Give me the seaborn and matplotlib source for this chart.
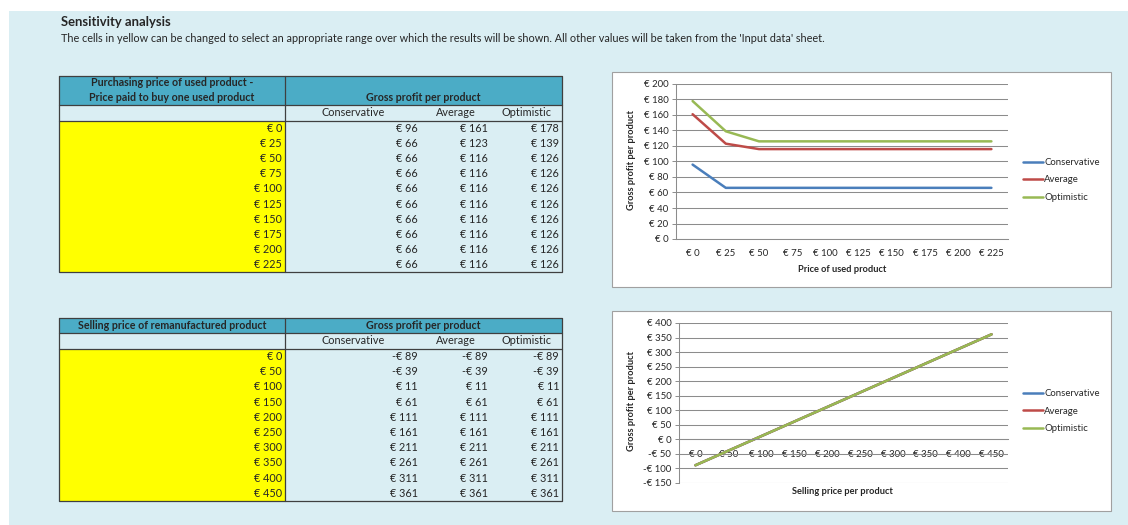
import matplotlib
matplotlib.use("Agg")
import numpy as np
import pandas as pd
import matplotlib.pyplot as plt
import seaborn as sns
from matplotlib.patches import Rectangle

# ---- data -------------------------------------------------------------
purchase_prices = [0, 25, 50, 75, 100, 125, 150, 175, 200, 225]
purchase_conservative = [96, 66, 66, 66, 66, 66, 66, 66, 66, 66]
purchase_average = [161, 123, 116, 116, 116, 116, 116, 116, 116, 116]
purchase_optimistic = [178, 139, 126, 126, 126, 126, 126, 126, 126, 126]

selling_prices = [0, 50, 100, 150, 200, 250, 300, 350, 400, 450]
selling_conservative = [-89, -39, 11, 61, 111, 161, 211, 261, 311, 361]
selling_average = [-89, -39, 11, 61, 111, 161, 211, 261, 311, 361]
selling_optimistic = [-89, -39, 11, 61, 111, 161, 211, 261, 311, 361]

scenarios = ["Conservative", "Average", "Optimistic"]
scenario_colors = ["#4A7EBB", "#BE4B48", "#98B954"]

title = "Sensitivity analysis"
subtitle = ("The cells in yellow can be changed to select an appropriate range over which the "
            "results will be shown. All other values will be taken from the 'Input data' sheet.")
purchase_header = ["Purchasing price of used product -", "Price paid to buy one used product"]
selling_header = ["Selling price of remanufactured product"]
profit_header = "Gross profit per product"

# ---- style ------------------------------------------------------------
sns.set_style("white")
plt.rcParams["font.family"] = ["Lato", "DejaVu Sans"]

BG = "#DAEEF3"
HEAD = "#4BACC6"
YELLOW = "#FFFF00"
GRID = "#8C8C8C"
BORDER = "#3F3F3F"

W, H = 1128, 525
fig = plt.figure(figsize=(W / 100, H / 100), dpi=100)

canvas = fig.add_axes([0, 0, 1, 1])
canvas.set_xlim(0, W)
canvas.set_ylim(H, 0)
canvas.axis("off")
canvas.add_patch(Rectangle((9, 11), W - 9, H - 11, facecolor=BG, edgecolor="none"))


def eur(v):
    return f"-€ {abs(v)}" if v < 0 else f"€ {v}"


canvas.text(61, 22, title, fontsize=9.4, fontweight="bold", va="center", ha="left")
canvas.text(61, 38.5, subtitle, fontsize=7.85, va="center", ha="left")

BASE = 7.8
BOLD = 7.7
TICK = 6.9


def draw_table(top, head_bot, sub_bot, bottom, header_lines, prices, cons, avg, opt):
    x0, xs, x1 = 59, 285, 562
    canvas.add_patch(Rectangle((x0, top), x1 - x0, head_bot - top, facecolor=HEAD, edgecolor="none"))
    canvas.add_patch(Rectangle((x0, sub_bot), xs - x0, bottom - sub_bot, facecolor=YELLOW, edgecolor="none"))
    # grid lines of the table
    canvas.plot([x0, x1, x1, x0, x0], [top, top, bottom, bottom, top], color=BORDER, lw=0.9)
    canvas.plot([xs, xs], [top, bottom], color=BORDER, lw=0.9)
    canvas.plot([x0, x1], [head_bot, head_bot], color=BORDER, lw=0.9)
    canvas.plot([x0, x1], [sub_bot, sub_bot], color=BORDER, lw=0.9)
    # headers
    n = len(header_lines)
    line_h = 15
    for i, line in enumerate(header_lines):
        y = head_bot - 7.5 - (n - 1 - i) * line_h
        canvas.text(172, y, line, fontsize=BOLD, fontweight="bold", ha="center", va="center")
    canvas.text(423, head_bot - 7.5, profit_header, fontsize=BOLD, fontweight="bold",
                ha="center", va="center")
    sub_y = (head_bot + sub_bot) / 2
    for name, cx in zip(scenarios, [353, 456, 527]):
        canvas.text(cx, sub_y, name, fontsize=BASE, ha="center", va="center")
    row_h = (bottom - sub_bot) / len(prices)
    for i, (p, c, a, o) in enumerate(zip(prices, cons, avg, opt)):
        y = sub_bot + (i + 0.5) * row_h
        for v, rx in zip([p, c, a, o], [282, 418, 488, 559]):
            canvas.text(rx, y, eur(v), fontsize=BASE, ha="right", va="center")


draw_table(76, 105, 121, 272, purchase_header, purchase_prices,
           purchase_conservative, purchase_average, purchase_optimistic)
draw_table(318, 333, 349, 501, selling_header, selling_prices,
           selling_conservative, selling_average, selling_optimistic)

# chart frames
for (l, t, r, b) in [(612, 72, 1111, 287), (612, 311, 1111, 511)]:
    canvas.add_patch(Rectangle((l + 1.2, t + 1.2), r - l, b - t, facecolor="#C4CACE", edgecolor="none"))
    canvas.add_patch(Rectangle((l, t), r - l, b - t, facecolor="white", edgecolor="#A0A0A0", lw=0.8))


def rect(left, top, right, bottom):
    return [left / W, 1 - bottom / H, (right - left) / W, (bottom - top) / H]


def line_chart(box, prices, cons, avg, opt, ylim, ystep, xlabel, xlabel_y, legend_y, zero_axis):
    ax = fig.add_axes(rect(*box))
    ax.patch.set_alpha(0)
    cats = [eur(p) for p in prices]
    df = pd.DataFrame({
        "price": cats * 3,
        "profit": list(cons) + list(avg) + list(opt),
        "scenario": np.repeat(scenarios, len(cats)),
    })
    sns.lineplot(data=df, x="price", y="profit", hue="scenario", hue_order=scenarios,
                 palette=scenario_colors, sort=False, linewidth=1.8, ax=ax)
    n = len(cats)
    ax.set_xlim(-0.5, n - 0.5)
    ax.set_ylim(*ylim)
    yt = np.arange(ylim[0], ylim[1] + 1, ystep)
    ax.set_yticks(yt)
    ax.set_yticklabels([eur(int(v)) for v in yt])
    ax.set_xticks(range(n))
    ax.set_xticklabels(cats)
    ax.set_xticks(np.arange(-0.5, n, 1.0), minor=True)
    ax.tick_params(axis="x", which="major", length=0, pad=7.5, labelsize=TICK)
    ax.tick_params(axis="x", which="minor", length=3, width=0.7, color=GRID, direction="out")
    ax.tick_params(axis="y", length=3, width=0.7, color=GRID, pad=2.5, labelsize=TICK, left=True)
    ax.yaxis.grid(True, color=GRID, lw=0.75)
    ax.xaxis.grid(False)
    ax.set_axisbelow(True)
    for s in ["top", "right"]:
        ax.spines[s].set_visible(False)
    for s in ["left", "bottom"]:
        ax.spines[s].set_color(GRID)
        ax.spines[s].set_linewidth(0.75)
    if zero_axis:
        ax.spines["bottom"].set_position(("data", 0))
    ax.set_xlabel(xlabel, fontsize=6.7, fontweight="bold")
    ax.set_ylabel("Gross profit per product", fontsize=6.7, fontweight="bold")
    l, t, r, b = box
    ax.xaxis.set_label_coords((842 - l) / (r - l), (b - xlabel_y) / (b - t))
    ax.xaxis.label.set_va("center")
    ax.yaxis.set_label_coords((632 - l) / (r - l), 0.51)
    ax.yaxis.label.set_va("center")
    handles, labels = ax.get_legend_handles_labels()
    ax.legend(handles, labels, loc="center left",
              bbox_to_anchor=(1023 / W, 1 - legend_y / H), bbox_transform=fig.transFigure,
              frameon=False, fontsize=TICK, handlelength=2.1, handletextpad=0.1,
              labelspacing=0.9, borderpad=0, borderaxespad=0)
    return ax


line_chart((676, 84, 1008, 239), purchase_prices, purchase_conservative, purchase_average,
           purchase_optimistic, (0, 200), 20, "Price of used product", 269, 180, False)
line_chart((679, 323, 1008, 483), selling_prices, selling_conservative, selling_average,
           selling_optimistic, (-150, 400), 50, "Selling price per product", 492, 411, True)

fig.savefig("out.png", dpi=100)
